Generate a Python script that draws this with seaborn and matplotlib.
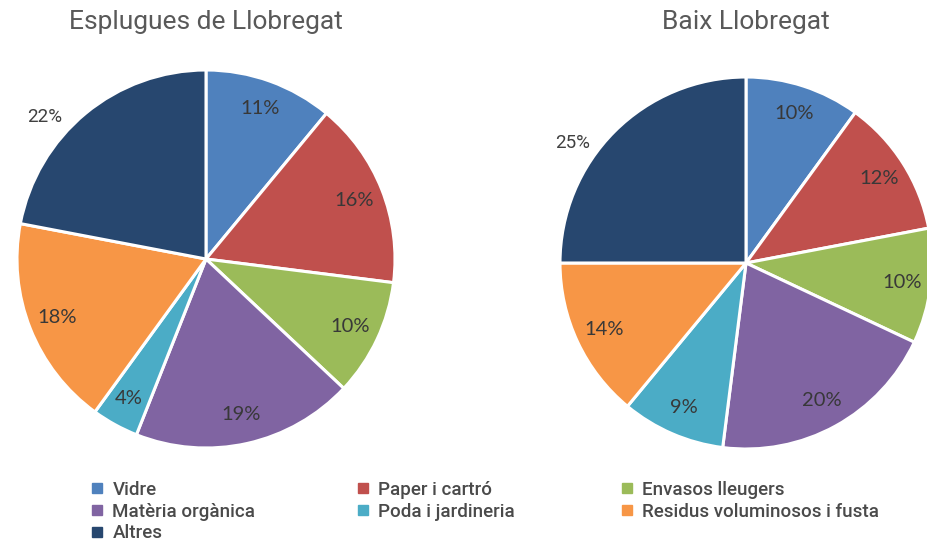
import matplotlib
matplotlib.use("Agg")
import matplotlib.pyplot as plt
import seaborn as sns
import numpy as np
from matplotlib.lines import Line2D

categories = ["Vidre", "Paper i cartró", "Envasos lleugers", "Matèria orgànica",
              "Poda i jardineria", "Residus voluminosos i fusta", "Altres"]
esplugues = [11, 16, 10, 19, 4, 18, 22]
baix = [10, 12, 10, 20, 9, 14, 25]
titles = ["Esplugues de Llobregat", "Baix Llobregat"]
colors = ["#4F81BD", "#C0504D", "#9BBB59", "#8064A2", "#4BACC6", "#F79646", "#27476F"]

sns.set_theme(style="white")
plt.rcParams['font.family'] = ['Roboto', 'DejaVu Sans']

W, H = 927, 543
fig = plt.figure(figsize=(W / 100, H / 100), dpi=100)

def add_pie(cx, cy, r, values, title):
    ax = fig.add_axes([(cx - r) / W, (H - cy - r) / H, 2 * r / W, 2 * r / H])
    wedges, _ = ax.pie(values, colors=colors, startangle=90, counterclock=False,
                       radius=1, wedgeprops=dict(edgecolor="white", linewidth=2.2))
    for i, (w, v) in enumerate(zip(wedges, values)):
        outside = i == len(values) - 1
        if outside:
            lo, hi = sorted((w.theta1, w.theta2))
            ang = np.deg2rad(lo + 0.615 * (hi - lo))
            d = 1.135
            ax.text(d * np.cos(ang), d * np.sin(ang), f"{v}%", ha="center", va="center",
                    fontsize=13.5, color="#404040", family=["Roboto", "DejaVu Sans"])
        else:
            ang = np.deg2rad((w.theta1 + w.theta2) / 2)
            d = 0.845
            ax.text(d * np.cos(ang), d * np.sin(ang), f"{v}%", ha="center", va="center",
                    fontsize=14.5, color="#383838", family=["Lato", "DejaVu Sans"])
    ax.set_xlim(-1, 1)
    ax.set_ylim(-1, 1)
    ax.set_aspect("equal")
    ax.axis("off")
    fig.text(cx / W, (H - 22) / H, title, ha="center", va="center",
             fontsize=19, color="#595959")
    return ax

add_pie(206, 259, 189, esplugues, titles[0])
add_pie(746, 263, 186, baix, titles[1])

def make_handle(c):
    return Line2D([], [], marker="s", linestyle="none", markersize=7.2,
                  markerfacecolor=c, markeredgecolor=c)

groups = [[0, 3, 6], [1, 4], [2, 5]]
xs = [90, 356, 620]
for g, x in zip(groups, xs):
    leg = fig.legend([make_handle(colors[i]) for i in g], [categories[i] for i in g],
                     loc="upper left", bbox_to_anchor=(x / W, (H - 481) / H),
                     frameon=False, handlelength=0.75, handletextpad=0.45,
                     labelspacing=0.2, borderpad=0, borderaxespad=0,
                     prop=dict(family="Roboto", weight="medium", size=13.5))
    for t in leg.get_texts():
        t.set_color("#4a4a4a")

fig.savefig("out.png", dpi=100)
